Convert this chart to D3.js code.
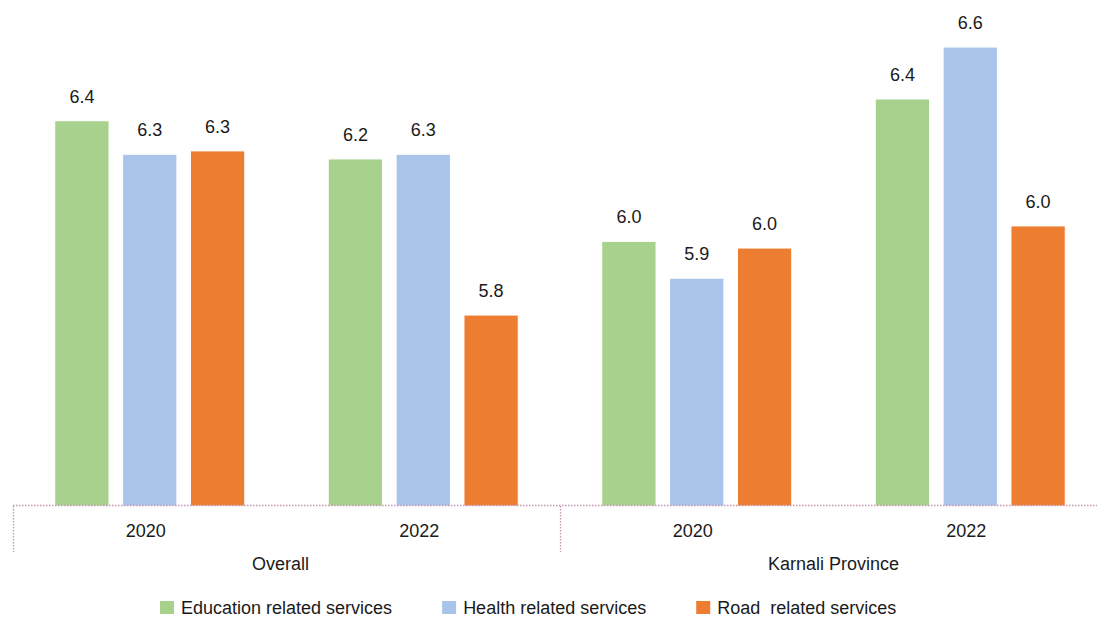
<!DOCTYPE html>
<html>
<head>
<meta charset="utf-8">
<script src="https://cdn.jsdelivr.net/npm/d3@7"></script>
<style>
  html, body { margin: 0; padding: 0; background: #fff; }
  svg { display: block; font-family: "Liberation Sans", Arial, sans-serif; }
</style>
</head>
<body>
<svg id="chart" width="1097" height="617"></svg>
<script>
// ---- data ----
const groups = ["Overall", "Karnali Province"];
const years = ["2020", "2022"];
const series = ["Education related services", "Health related services", "Road  related services"];
const education = [6.36, 6.246, 6.00, 6.425];
const health = [6.26, 6.26, 5.89, 6.58];
const road = [6.27, 5.78, 5.98, 6.046];
const colors = ["#A9D18E", "#A9C4E9", "#ED7D31"];

// ---- build ----
const categories = [];
groups.forEach(g => years.forEach(y => categories.push({ group: g, year: y, key: g + "|" + y })));
const seriesValues = [education, health, road];

const svg = d3.select("#chart");
const baseY = 506;
const left = 13, right = 1107;

const x0 = d3.scaleBand().domain(categories.map(c => c.key)).range([left, right]).padding(0);
const xg = d3.scaleBand().domain(groups).range([left, right]).padding(0);
const x1 = d3.scaleBand().domain(series).range([41.75, 231.75]).paddingInner(0.2).paddingOuter(0);
const y = d3.scaleLinear().domain([5.21, 6.71]).range([baseY, baseY - 1.5 * 335]);

const cat = svg.selectAll("g.cat").data(categories).join("g")
  .attr("class", "cat")
  .attr("transform", d => `translate(${x0(d.key)},0)`);

cat.each(function(c, ci) {
  const g = d3.select(this);
  const data = series.map((s, si) => ({ s, si, v: seriesValues[si][ci] }));
  g.selectAll("rect").data(data).join("rect")
    .attr("x", d => x1(d.s))
    .attr("y", d => y(d.v))
    .attr("width", x1.bandwidth())
    .attr("height", d => baseY - y(d.v))
    .attr("fill", d => colors[d.si])
    .attr("stroke", "#fff")
    .attr("stroke-width", 1);
  g.selectAll("text.val").data(data).join("text")
    .attr("class", "val")
    .attr("x", d => x1(d.s) + x1.bandwidth() / 2)
    .attr("y", d => y(d.v) - 18)
    .attr("text-anchor", "middle")
    .attr("font-size", 18)
    .attr("fill", "#1a1a1a")
    .text(d => d.v.toFixed(1));
});

// ---- category axis (dotted) ----
const dotted = { stroke: "#c596b4", "stroke-width": 1.3, "stroke-dasharray": "1.5,1.5" };
function applyStyle(sel, st) { Object.entries(st).forEach(([k, v]) => sel.attr(k, v)); return sel; }

applyStyle(svg.append("line")
  .attr("x1", left).attr("x2", right).attr("y1", baseY - 0.5).attr("y2", baseY - 0.5), dotted);

groups.forEach(g => {
  applyStyle(svg.append("line")
    .attr("x1", xg(g) + 0.5).attr("x2", xg(g) + 0.5)
    .attr("y1", baseY).attr("y2", 552), dotted);
});

svg.selectAll("text.year").data(categories).join("text")
  .attr("class", "year")
  .attr("x", d => x0(d.key) + x0.bandwidth() / 2 - 4)
  .attr("y", 537)
  .attr("text-anchor", "middle")
  .attr("font-size", 18)
  .attr("fill", "#1a1a1a")
  .text(d => d.year);

svg.selectAll("text.grp").data(groups).join("text")
  .attr("class", "grp")
  .attr("x", (d, i) => xg(d) + xg.bandwidth() / 2 - (i === 0 ? 6 : 0))
  .attr("y", 570)
  .attr("text-anchor", "middle")
  .attr("font-size", 18)
  .attr("fill", "#1a1a1a")
  .text(d => d);

// ---- legend ----
const legend = svg.append("g");
let lx = 160;
series.forEach((s, i) => {
  const item = legend.append("g").attr("transform", `translate(${lx},601)`);
  item.append("rect").attr("width", 14).attr("height", 13).attr("fill", colors[i]);
  const t = item.append("text")
    .attr("x", 21).attr("y", 12.5)
    .attr("font-size", 18)
    .attr("fill", "#1a1a1a")
    .attr("xml:space", "preserve")
    .style("white-space", "pre")
    .text(s);
  lx += 21 + t.node().getComputedTextLength() + 50;
});
</script>
</body>
</html>
